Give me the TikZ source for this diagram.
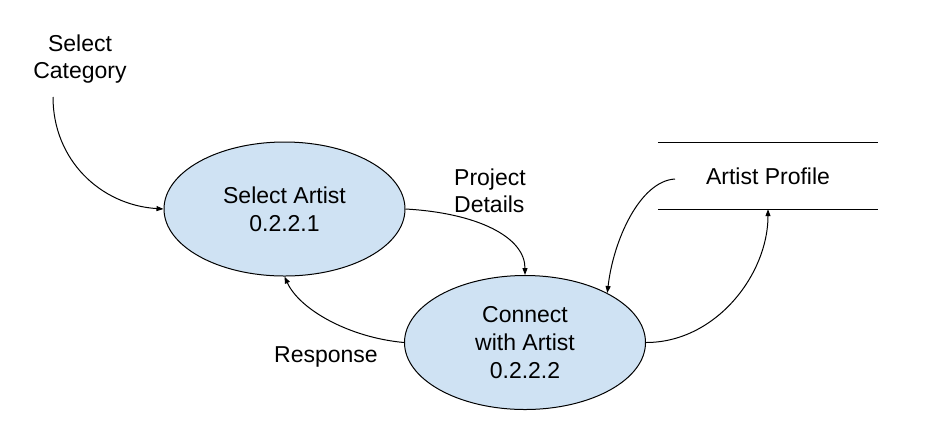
\documentclass[tikz,border=0pt]{standalone}
\usepackage{fontspec}
\setmainfont{Liberation Sans}
\usetikzlibrary{arrows.meta,shapes.geometric}
\definecolor{procfill}{HTML}{CFE2F3}
\tikzset{
  proc/.style={ellipse,draw=black,line width=1pt,fill=procfill,minimum width=241pt,minimum height=134pt,inner sep=0pt,align=center,font=\fontsize{23}{28}\selectfont},
  lbl/.style={inner sep=0pt,font=\fontsize{23}{27.5}\selectfont},
  flow/.style={line width=1pt,-{Triangle[length=7pt,width=5pt]}},
  storeline/.style={line width=1pt}
}
\begin{document}
\begin{tikzpicture}[x=1pt,y=-1pt]
\useasboundingbox (0,0) rectangle (933,440);
\node[proc] (e1) at (284.5,209) {Select Artist\\0.2.2.1};
\node[proc] (e2) at (525,342.5) {Connect\\with Artist\\0.2.2.2};
\node[lbl,align=center] (cat) at (80,59) {Select\\Category};
\node[lbl,align=left,anchor=west] (pd) at (454,191) {Project\\Details};
\node[lbl] (resp) at (326,357) {Response};
\node[lbl,rectangle,minimum width=220pt,minimum height=66pt] (store) at (768,176) {Artist Profile};
\draw[storeline] (store.north west) -- (store.north east);
\draw[storeline] (store.south west) -- (store.south east);
\coordinate (c1) at (53,97);
\coordinate (aps) at (675,179);
\draw[flow] (c1) .. controls +(0,63) and +(-63,-4) .. (e1.west);
\draw[flow] (e1.east) .. controls +(72,4) and +(0,-38) .. (e2.north);
\draw[flow] (e2.west) .. controls +(-55,-5) and +(15,33) .. (e1.south);
\draw[flow] (aps) .. controls +(-35,2) and +(6,-53) .. (e2.31);
\draw[flow] (e2.east) .. controls +(70,0) and +(0,65) .. (store.south);
\end{tikzpicture}
\end{document}
